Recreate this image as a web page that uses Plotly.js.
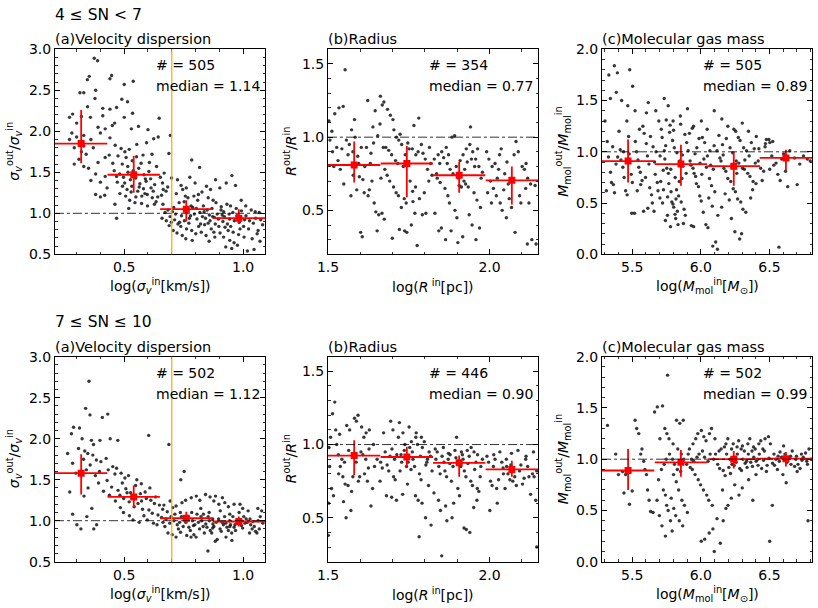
<!DOCTYPE html>
<html><head><meta charset="utf-8">
<script src="https://cdn.plot.ly/plotly-3.0.1.min.js"></script>
<style>html,body{margin:0;padding:0;background:#fff}#plot{width:818px;height:608px}</style>
</head><body><div id="plot"></div>
<script>
// ---------- scatter data (x, y) ----------
const ptsTopA = [[0.374,2.89],[0.388,2.86],[0.353,2.67],[0.345,2.63],[0.447,2.68],[0.44,2.64],[0.538,2.61],[0.50,2.57],[0.314,2.47],[0.33,2.47],[0.38,2.50],[0.377,2.40],[0.49,2.39],[0.514,2.36],[0.468,2.29],[0.44,2.27],[0.346,2.30],[0.41,2.28],[0.50,2.17],[0.647,2.16],[0.535,2.22],[0.283,2.21],[0.32,2.18],[0.358,2.17],[0.41,2.19],[0.30,2.10],[0.27,2.17],[0.45,2.07],[0.56,2.06],[0.53,2.03],[0.39,2.05],[0.42,2.03],[0.60,2.02],[0.46,2.10],
[0.28,1.98],[0.30,1.93],[0.33,1.95],[0.36,1.90],[0.29,1.80],[0.32,1.75],[0.34,1.72],[0.31,1.66],[0.29,1.60],[0.33,1.57],[0.35,1.55],[0.38,1.48],[0.36,1.40],[0.40,1.38],[0.42,1.45],[0.39,1.62],[0.42,1.68],[0.44,1.92],[0.40,1.98],[0.37,1.80],[0.27,1.90],[0.33,1.82],[0.38,1.23],[0.40,1.20],[0.468,0.94],
[0.462,1.83],[0.487,1.79],[0.503,1.75],[0.521,1.78],[0.474,1.70],[0.508,1.68],[0.534,1.64],[0.552,1.69],[0.571,1.61],[0.492,1.60],[0.515,1.57],[0.538,1.52],[0.561,1.55],[0.583,1.47],[0.604,1.51],[0.458,1.52],[0.481,1.48],[0.497,1.44],[0.526,1.41],[0.548,1.43],[0.566,1.36],[0.592,1.39],[0.613,1.31],[0.628,1.35],[0.471,1.38],[0.493,1.33],[0.512,1.29],[0.529,1.26],[0.557,1.27],[0.574,1.21],[0.587,1.24],[0.618,1.19],[0.634,1.14],[0.482,1.24],[0.506,1.21],[0.523,1.16],[0.545,1.13],[0.563,1.32],[0.581,1.30],[0.597,1.23],[0.622,1.27],[0.641,1.20],[0.606,1.62],[0.617,1.72],[0.579,1.71],[0.553,1.84],[0.594,1.86],[0.624,1.91],[0.636,1.57],[0.652,1.44],[0.661,1.37],[0.437,1.71],[0.452,1.61],[0.428,1.31],[0.418,1.22],[0.461,1.11],[0.643,1.93],[0.668,1.49],[0.676,1.27],[0.657,1.22],[0.519,1.06],[0.598,1.09],[0.627,1.11],[0.502,1.37],[0.543,1.47],[0.589,1.42],[0.532,1.33],[0.611,1.42],[0.549,1.20],[0.573,1.12],[0.468,1.45],[0.516,1.50],
[0.663,1.11],[0.684,1.04],[0.703,1.02],[0.716,0.99],[0.741,0.97],[0.659,0.94],[0.677,0.91],[0.698,0.89],[0.726,0.87],[0.738,0.84],[0.762,0.81],[0.784,0.79],[0.672,1.01],[0.693,0.96],[0.708,1.07],[0.731,1.13],[0.752,1.14],[0.768,1.19],[0.793,1.21],[0.812,1.23],[0.827,1.26],[0.853,1.19],[0.874,1.16],[0.886,1.13],[0.719,1.24],[0.746,1.29],[0.757,1.21],[0.781,1.09],[0.803,1.06],[0.818,1.01],[0.842,0.94],[0.861,0.91],[0.883,0.87],[0.898,0.84],[0.924,0.83],[0.937,0.79],[0.958,0.77],[0.981,0.74],[1.004,0.71],[0.767,1.03],[0.779,0.97],[0.806,0.93],[0.821,0.87],[0.838,0.86],[0.866,0.81],[0.877,0.77],[0.903,0.76],[0.918,0.71],[0.944,0.67],[0.962,0.64],[0.976,0.61],[0.927,0.59],[0.952,0.57],[1.018,0.54],[1.046,0.56],[1.071,0.66],[1.038,0.69],[1.063,0.79],[1.082,0.86],[1.027,0.91],[1.053,0.94],[1.068,1.01],[1.012,0.97],[0.993,1.03],[0.971,1.06],[0.947,1.09],[0.932,1.11],[0.907,1.04],[0.891,0.99],[0.872,0.96],[0.849,1.04],[0.833,1.09],[0.809,1.16],[0.788,1.07],[0.774,0.94],[0.753,0.91],[0.733,0.89],[0.712,0.92],[0.689,0.85],[0.706,0.79],[0.722,0.76],[0.744,0.73],[0.759,0.69],[0.786,0.67],[0.801,0.75],[0.824,0.77],[0.844,0.73],[0.857,0.66],[0.881,0.71],[0.896,0.93],[0.921,0.96],[0.941,0.99],[0.963,0.91],[0.984,0.89],[1.002,0.84],[1.023,0.81],[0.974,0.97],[0.934,0.87],[0.912,0.98],[0.953,1.46],[0.968,1.34],[0.929,1.37],[0.902,1.31],[0.884,1.41],[0.863,1.29],[0.846,1.33],[0.798,1.37],[0.776,1.44],[0.761,1.31],[0.817,1.56],[0.784,1.65],[0.694,1.95],[0.688,1.73],[0.739,1.34],[0.724,1.41],[0.699,1.43],[0.683,1.32],[0.664,1.29],[0.992,1.16],[1.011,1.09],[1.034,1.04],[1.051,1.02],[1.074,0.92],[0.989,0.95],[1.006,0.92],[0.957,1.01],[0.943,0.93],[0.918,1.02],[0.908,1.08],[0.879,0.95],[0.858,0.98],[0.836,1.02],[0.795,0.99],[0.829,0.96],[0.869,1.06],[0.915,0.90],[0.948,0.84],[0.987,0.81],[1.043,0.88],[1.059,0.75],[0.853,0.88],[0.813,0.84],[0.772,0.88]];

const ptsTopB = [[1.503,1.11],[1.512,1.04],[1.521,1.16],[1.534,1.20],[1.547,1.21],[1.553,1.46],[1.506,0.98],[1.514,0.90],[1.527,0.93],[1.531,0.84],[1.538,0.78],[1.549,0.68],[1.557,0.98],[1.566,0.95],[1.573,1.05],[1.584,1.00],[1.577,0.90],[1.592,0.87],[1.603,0.93],[1.614,0.80],[1.619,0.93],[1.633,0.89],[1.641,0.96],[1.597,0.73],[1.608,0.71],[1.612,0.62],[1.624,0.60],[1.628,0.64],[1.636,0.70],[1.643,0.55],[1.648,0.49],[1.652,0.36],[1.657,0.47],[1.601,0.35],[1.606,0.32],[1.582,1.12],[1.589,0.64],[1.571,0.60],[1.562,0.88],[1.623,1.25],[1.646,1.18],[1.631,0.82],[1.661,1.09],[1.654,1.01],[1.639,1.07],[1.518,0.80],[1.543,0.92],[1.595,0.82],[1.578,0.74],
[1.662,1.28],[1.668,1.22],[1.673,1.24],[1.684,1.19],[1.701,1.12],[1.693,1.15],[1.704,1.05],[1.712,1.00],[1.719,0.98],[1.728,0.95],[1.723,1.02],[1.747,0.96],[1.671,0.93],[1.679,0.93],[1.688,0.91],[1.697,0.88],[1.709,0.84],[1.716,0.82],[1.733,0.80],[1.676,0.78],[1.683,0.74],[1.691,0.70],[1.703,0.66],[1.711,0.62],[1.718,0.60],[1.736,0.58],[1.742,0.55],[1.664,0.72],[1.667,0.48],[1.674,0.44],[1.699,0.31],[1.721,0.37],[1.737,0.36],[1.744,0.35],[1.758,0.40],[1.769,0.48],[1.776,0.26],[1.783,0.58],[1.792,0.47],[1.803,0.48],[1.781,1.13],[1.761,0.92],[1.772,0.88],[1.779,0.90],[1.794,0.89],[1.801,0.85],[1.808,0.78],[1.818,0.82],[1.766,1.08],[1.751,0.92],[1.739,0.88],[1.754,0.70],[1.762,0.63],[1.771,0.66],[1.798,0.62],[1.812,0.70],[1.822,0.74],[1.727,0.52],[1.763,0.56],[1.789,0.95],[1.814,0.93],
[1.829,0.85],[1.841,0.88],[1.852,0.90],[1.858,0.86],[1.869,0.82],[1.878,0.78],[1.887,0.75],[1.897,0.80],[1.909,0.84],[1.918,0.88],[1.928,0.92],[1.939,0.95],[1.948,0.90],[1.957,0.85],[1.967,0.80],[1.978,0.76],[1.884,1.00],[1.892,1.01],[1.941,1.07],[1.838,0.72],[1.847,0.69],[1.862,0.65],[1.871,0.60],[1.876,0.55],[1.893,0.50],[1.899,0.45],[1.904,0.72],[1.921,0.70],[1.926,0.68],[1.934,0.66],[1.952,0.62],[1.961,0.57],[1.972,0.52],[1.831,0.48],[1.843,0.36],[1.851,0.38],[1.864,0.30],[1.881,0.36],[1.902,0.28],[1.917,0.32],[1.937,0.47],[1.946,0.40],[1.969,0.38],[1.958,0.30],[1.836,0.75],[1.846,0.82],[1.873,0.88],[1.906,0.67],[1.913,0.66],[1.923,0.78],[1.944,0.85],[1.954,0.80],[1.963,0.92],[1.974,0.72],[1.866,0.93],[1.911,0.74],[1.931,0.83],
[1.991,0.90],[1.998,0.85],[2.008,0.80],[2.017,0.82],[2.028,0.78],[2.036,0.92],[2.047,0.75],[2.058,0.68],[2.071,0.70],[2.082,0.97],[2.089,0.90],[2.101,0.80],[2.108,0.78],[2.118,0.72],[2.127,0.68],[2.141,0.67],[2.003,0.70],[2.012,0.65],[2.021,0.60],[2.033,0.55],[2.039,0.50],[2.052,0.45],[1.994,0.62],[2.006,0.55],[2.061,0.58],[2.068,0.52],[2.079,0.35],[2.093,0.60],[2.113,0.82],[2.122,0.55],[2.131,0.30],[2.144,0.27],[2.117,0.27],[2.024,0.72],[2.054,0.83],[2.031,0.88],[2.097,0.55],[2.112,0.65],[2.076,0.88],[2.044,0.64]];

const ptsTopC = [[5.33,1.75],[5.37,1.84],[5.392,1.77],[5.482,1.80],[5.503,1.64],[5.384,1.58],[5.341,1.52],[5.423,1.50],[5.468,1.45],[5.521,1.40],[5.604,1.38],[5.617,1.48],[5.672,1.40],[5.733,1.52],[5.762,1.45],[5.798,1.30],[5.851,1.35],[5.903,1.42],[5.947,1.25],[6.004,1.30],[6.046,1.22],[6.098,1.40],[6.153,1.32],[6.197,1.25],[6.254,1.20],[6.302,1.28],[6.347,1.20],[6.404,1.15],[6.496,1.12],[6.524,1.10],[6.471,1.08],
[5.302,1.30],[5.318,1.10],[5.327,0.95],[5.342,0.80],[5.349,0.70],[5.363,0.68],[5.371,0.60],[5.382,0.88],[5.404,1.20],[5.413,1.02],[5.418,0.92],[5.432,0.85],[5.441,0.75],[5.452,0.62],[5.461,1.30],[5.474,1.15],[5.478,0.98],[5.493,0.78],[5.501,0.70],[5.312,0.62],[5.394,0.95],[5.437,1.00],[5.463,0.58],[5.497,0.40],[5.517,0.40],[5.358,1.05],
[5.523,1.10],[5.531,1.00],[5.542,0.92],[5.548,0.85],[5.559,0.80],[5.572,0.72],[5.578,1.25],[5.587,1.18],[5.603,1.08],[5.611,0.96],[5.622,0.88],[5.628,0.65],[5.641,0.58],[5.647,0.50],[5.659,0.42],[5.668,0.78],[5.683,0.70],[5.688,0.62],[5.702,0.55],[5.537,0.62],[5.562,0.68],[5.583,0.42],[5.614,0.45],[5.633,1.15],[5.652,1.05],[5.674,1.00],[5.694,1.30],[5.553,1.22],[5.597,0.75],[5.663,0.90],
[5.712,1.22],[5.718,1.14],[5.734,1.01],[5.738,0.93],[5.752,0.84],[5.764,0.79],[5.767,0.69],[5.783,0.61],[5.789,0.51],[5.803,0.46],[5.812,0.39],[5.817,0.35],[5.834,0.29],[5.757,0.38],[5.779,0.27],[5.742,0.33],[5.721,0.50],[5.728,0.63],[5.708,0.71],[5.748,1.31],[5.773,1.19],[5.794,1.11],[5.807,1.04],[5.826,0.99],[5.846,0.91],[5.868,0.86],[5.893,0.79],[5.838,0.57],[5.857,0.51],[5.878,0.44],[5.823,0.63],[5.843,0.71],[5.862,0.74],[5.884,1.17],[5.897,1.09],[5.801,1.21],[5.776,1.26],[5.744,1.06],[5.703,0.96],[5.726,0.82],[5.853,1.27],[5.819,0.54],[5.797,0.49],[5.758,0.56],[5.829,0.42],[5.873,0.30],[5.887,0.38],[5.781,0.83],[5.813,0.75],[5.866,0.97],
[5.908,1.01],[5.922,0.91],[5.928,0.87],[5.943,0.84],[5.951,0.79],[5.962,0.76],[5.968,0.69],[5.983,0.66],[5.992,0.57],[6.003,0.52],[6.018,0.41],[6.037,0.29],[6.052,0.26],[5.931,0.28],[5.948,0.27],[5.971,1.04],[5.987,1.13],[6.011,1.14],[6.028,1.09],[6.048,0.96],[6.072,0.87],[6.091,0.83],[6.063,0.74],[6.078,0.67],[6.102,0.61],[6.058,0.55],[6.083,0.47],[6.087,0.08],[6.108,0.12],[6.121,0.05],[6.022,0.93],[6.041,0.85],[5.917,1.18],[5.938,1.23],[6.097,1.06],[6.007,0.78],[5.958,0.98],[5.994,0.89],[6.066,1.01],
[6.118,1.01],[6.139,0.94],[6.147,0.91],[6.168,0.84],[6.182,0.81],[6.197,0.74],[6.218,0.71],[6.236,0.64],[6.252,0.61],[6.268,0.54],[6.291,0.51],[6.307,0.44],[6.328,0.41],[6.223,0.35],[6.248,0.22],[6.283,0.15],[6.297,0.20],[6.132,1.16],[6.158,1.07],[6.186,1.13],[6.213,1.04],[6.232,0.99],[6.258,0.91],[6.277,0.89],[6.304,0.84],[6.317,0.83],[6.342,0.79],[6.358,0.76],[6.381,0.71],[6.397,0.89],[6.352,0.96],[6.333,1.01],[6.312,1.04],[6.286,1.11],[6.273,1.14],[6.241,1.22],[6.368,1.09],[6.389,1.03],[6.177,0.59],[6.207,0.53],[6.152,0.46],[6.124,0.38],[6.363,0.55],[6.377,0.63],[6.402,0.69],[6.262,0.79],[6.163,0.97],[6.227,0.86],[6.321,0.92],
[6.418,0.91],[6.436,0.84],[6.458,0.81],[6.477,1.12],[6.503,1.09],[6.517,0.96],[6.548,0.89],[6.578,0.72],[6.603,0.98],[6.617,0.81],[6.648,1.01],[6.683,0.94],[6.702,0.68],[6.748,0.96],[6.776,0.93],[6.797,0.91],[6.447,0.72],[6.502,0.83],[6.561,0.78],[6.633,0.66],[6.569,0.07],[6.423,1.03],[6.468,1.05],[6.532,0.87],[6.589,0.93],[6.721,0.88]];

const ptsBotA = [[0.352,2.70],[0.338,2.37],[0.356,2.29],[0.408,2.26],[0.431,2.30],[0.287,2.14],[0.312,2.13],[0.278,2.06],[0.323,2.00],[0.362,1.98],[0.371,1.93],[0.398,1.98],[0.441,2.00],[0.473,1.98],[0.603,2.04],[0.688,1.93],[0.308,1.88],[0.334,1.85],[0.347,1.82],[0.368,1.80],[0.262,1.82],[0.283,1.70],[0.329,1.75],[0.383,1.74],[0.402,1.72],[0.424,1.76],[0.357,1.68],[0.341,1.62],[0.297,1.58],[0.379,1.55],[0.396,1.60],[0.452,1.66],[0.433,1.62],[0.468,1.64],[0.487,1.58],[0.461,1.57],[0.503,1.52],[0.518,1.55],[0.271,1.35],[0.283,1.08],[0.301,0.95],[0.318,0.90],[0.372,0.90],[0.384,0.95],[0.343,1.05],[0.364,1.15],[0.331,1.30],[0.348,1.40],[0.392,1.46],[0.413,1.36],[0.428,1.49],[0.447,1.41],[0.474,1.37],[0.492,1.46],[0.507,1.39],[0.527,1.34],[0.548,1.43],[0.568,1.33],[0.593,1.27],[0.612,1.25],[0.627,1.21],[0.648,1.19],[0.438,1.31],[0.463,1.24],[0.482,1.31],[0.498,1.27],[0.521,1.23],[0.542,1.17],[0.558,1.21],[0.577,1.14],[0.604,1.13],[0.618,1.09],[0.642,1.07],[0.657,1.04],[0.484,1.16],[0.497,1.10],[0.522,1.06],[0.537,1.01],[0.563,0.98],[0.583,1.06],[0.597,1.01],[0.623,0.97],[0.638,0.95],[0.553,1.50],[0.572,1.45],[0.588,1.35],[0.608,1.40],[0.632,1.29],[0.667,1.19],[0.693,1.24],[0.662,1.14],[0.681,1.11],[0.704,1.16],[0.718,1.18],[0.743,1.22],[0.758,1.25],[0.782,1.28],[0.752,1.60],[0.738,1.50],[0.803,1.30],[0.818,1.25],[0.842,1.32],[0.861,1.29],[0.877,1.24],[0.898,1.20],[0.923,1.22],[0.938,1.17],[0.962,1.20],[0.998,1.15],[1.021,1.12],[1.062,1.15],[1.078,1.12],[0.533,1.28],[0.512,1.34],[0.573,1.24],
[0.663,0.98],[0.671,0.93],[0.684,0.85],[0.702,0.83],[0.709,1.00],[0.723,0.95],[0.728,0.90],[0.741,1.05],[0.753,1.02],[0.759,0.98],[0.772,0.92],[0.778,0.88],[0.793,0.83],[0.802,0.80],[0.806,1.08],[0.823,1.05],[0.826,1.00],[0.843,0.96],[0.848,0.92],[0.862,0.88],[0.868,0.85],[0.883,0.75],[0.891,0.77],[0.897,1.02],[0.912,0.98],[0.917,0.95],[0.932,0.92],[0.938,0.88],[0.952,0.85],[0.957,1.05],[0.973,1.00],[0.978,0.97],[0.993,0.94],[0.998,0.91],[1.013,1.02],[1.018,0.98],[1.032,0.95],[1.038,0.90],[1.052,0.87],[1.058,0.85],[1.072,1.05],[1.083,0.97],[0.852,0.63],[0.718,0.80],[0.763,0.82],[0.797,0.95],[0.817,0.90],[0.837,0.85],[0.858,1.00],[0.877,0.93],[0.903,0.90],[0.922,1.05],[0.943,1.00],[0.962,0.92],[0.983,1.10],[1.003,1.05],[0.697,1.05],[0.676,1.02],[0.736,1.10],[0.784,1.10],[0.822,1.15],[0.857,1.10],[0.904,1.12],[0.944,1.08],[0.987,1.20],[0.884,1.30],[0.913,1.28],[0.787,1.00],[0.832,0.93],[0.873,0.96],[0.908,0.87],[0.947,0.95],[0.968,0.88],[1.027,0.85],[1.047,0.93],[1.068,0.90],[0.733,0.98],[0.768,1.05],[0.812,0.98],[0.853,1.05],[0.887,0.98],[0.927,0.97],[0.966,0.95],[1.008,0.97],[1.063,1.00],[0.928,0.80],[0.953,0.76],[0.781,0.80],[0.692,0.97],[0.713,1.08],[0.748,0.93],[0.833,1.08],[0.872,1.02],[0.991,1.00],[1.029,1.02],[0.791,0.94],[0.944,0.93],[1.041,0.99],[0.872,0.91],[0.737,0.86]];

const ptsBotB = [[1.521,1.29],[1.514,1.21],[1.503,0.98],[1.508,1.05],[1.524,1.10],[1.527,1.00],[1.532,0.93],[1.543,0.90],[1.551,0.88],[1.558,1.13],[1.567,1.10],[1.582,1.18],[1.588,1.16],[1.593,1.20],[1.604,1.12],[1.611,1.05],[1.618,1.08],[1.628,1.10],[1.641,1.00],[1.502,0.60],[1.511,0.70],[1.517,0.65],[1.533,0.80],[1.538,0.85],[1.548,0.61],[1.556,0.50],[1.562,0.72],[1.573,0.68],[1.577,0.78],[1.594,0.75],[1.598,0.78],[1.613,0.80],[1.622,0.75],[1.633,0.58],[1.638,0.70],[1.571,0.55],[1.553,0.73],[1.652,0.90],[1.564,0.96],[1.579,0.92],[1.602,0.95],[1.617,0.90],[1.644,0.85],[1.587,0.88],[1.608,0.93],[1.627,0.97],[1.536,1.07],[1.505,0.85],[1.501,0.38],[1.546,0.78],[1.625,0.84],
[1.672,1.08],[1.677,0.95],[1.692,0.92],[1.698,0.97],[1.713,0.93],[1.718,1.05],[1.732,1.08],[1.738,1.00],[1.753,0.98],[1.758,1.02],[1.772,1.05],[1.777,1.00],[1.792,0.98],[1.798,1.02],[1.813,0.95],[1.817,0.92],[1.663,0.88],[1.668,0.84],[1.683,0.86],[1.688,0.82],[1.703,0.78],[1.708,0.76],[1.723,0.82],[1.728,0.88],[1.743,0.85],[1.748,0.88],[1.763,0.90],[1.768,0.85],[1.783,0.80],[1.788,0.76],[1.803,0.86],[1.808,0.90],[1.822,0.82],[1.694,1.16],[1.701,1.10],[1.721,1.15],[1.751,1.12],[1.773,1.08],[1.789,1.05],[1.731,0.66],[1.746,0.73],[1.771,0.65],[1.779,0.62],[1.791,0.60],[1.697,0.64],[1.712,0.62],[1.681,0.65],[1.661,0.75],[1.811,0.72],[1.802,0.50],[1.819,0.45],[1.782,0.37],[1.761,0.95],[1.741,0.92],[1.726,0.93],[1.706,0.90],[1.786,0.92],[1.806,0.88],[1.736,0.96],[1.757,0.83],
[1.832,0.97],[1.838,0.95],[1.853,0.92],[1.857,0.98],[1.872,0.90],[1.878,0.93],[1.893,0.96],[1.898,1.05],[1.913,0.95],[1.918,0.90],[1.933,0.87],[1.937,0.92],[1.952,0.95],[1.958,0.88],[1.973,0.85],[1.978,0.90],[1.843,0.85],[1.847,0.80],[1.862,0.82],[1.867,0.78],[1.882,0.75],[1.887,0.85],[1.902,0.70],[1.907,0.65],[1.922,0.82],[1.927,0.78],[1.942,0.75],[1.947,0.72],[1.962,0.70],[1.967,0.68],[1.828,0.67],[1.842,0.62],[1.848,0.55],[1.864,0.58],[1.868,0.48],[1.884,0.50],[1.889,0.60],[1.921,0.43],[1.928,0.42],[1.939,0.40],[1.951,0.57],[1.961,0.62],[1.852,0.24],[1.859,0.88],[1.877,0.87],[1.903,0.88],[1.916,0.93],[1.943,0.98],[1.963,0.93],[1.834,0.90],[1.873,0.94],[1.911,0.85],[1.954,0.83],[1.971,0.78],[1.896,0.91],[1.931,0.96],
[1.992,0.92],[1.997,0.88],[2.012,0.85],[2.017,0.90],[2.032,0.95],[2.038,0.88],[2.053,0.85],[2.057,0.80],[2.072,0.75],[2.078,0.78],[2.093,0.82],[2.097,0.86],[2.112,0.90],[2.118,0.85],[2.133,0.80],[2.138,0.78],[2.146,0.82],[2.003,0.75],[2.008,0.72],[2.022,0.70],[2.028,0.76],[2.043,0.80],[2.048,0.70],[2.063,0.76],[2.083,0.72],[2.102,0.73],[2.107,0.77],[2.127,0.66],[2.143,0.62],[2.001,0.55],[2.024,0.60],[2.052,0.90],[2.068,0.94],[2.088,0.96],[2.113,0.92],[2.136,0.95],[2.013,0.93],[2.042,0.84],[2.122,0.78],[2.146,0.30],[2.066,0.86]];

const ptsBotC = [[5.32,1.33],[5.38,1.05],[5.43,0.88],[5.452,0.85],[5.40,0.85],[5.44,0.67],[5.48,0.56],[5.50,0.69],[5.521,1.38],[5.533,1.30],[5.548,1.25],[5.571,1.10],[5.562,1.05],[5.584,0.98],[5.593,0.90],[5.604,0.85],[5.612,0.70],[5.623,0.60],[5.634,0.49],[5.652,0.48],[5.663,1.46],[5.683,1.51],[5.702,1.20],[5.721,1.52],[5.738,1.30],[5.753,1.25],[5.768,1.20],[5.758,1.82],[5.727,0.70],[5.742,0.65],[5.751,0.55],[5.762,0.50],[5.779,0.40],[5.791,0.30],[5.742,0.25],[5.717,0.35],[5.698,0.45],[5.681,0.60],[5.692,0.80],[5.713,0.90],[5.733,0.95],[5.748,1.00],[5.772,1.05],[5.794,1.00],[5.808,0.95],[5.829,0.90],[5.853,0.88],[5.801,0.85],[5.821,0.78],[5.838,0.70],[5.862,0.60],[5.881,0.55],[5.784,0.62],[5.803,0.52],[5.817,0.45],[5.843,0.40],[5.868,0.35],[5.902,0.48],[5.823,1.38],[5.847,1.35],[5.872,1.38],[5.798,1.15],[5.832,1.10],[5.858,1.05],[5.877,1.00],[5.897,0.95],[5.923,0.92],[5.938,0.90],[5.958,0.85],[5.981,0.80],[5.998,0.75],[6.019,0.70],[6.043,0.65],[6.058,0.60],[6.083,0.55],[6.003,0.20],[6.028,0.22],[6.061,0.28],[6.088,0.32],[6.118,0.42],[6.098,0.10],[6.142,0.18],[6.163,0.40],
[5.917,1.10],[5.943,1.15],[5.963,1.20],[5.978,1.25],[6.004,1.28],[6.022,1.22],[6.038,1.18],[6.063,1.25],[6.078,1.30],[6.103,1.20],[5.908,1.05],[5.932,1.00],[5.948,0.98],[5.972,1.02],[5.987,1.05],[6.012,1.08],[6.027,1.02],[6.053,0.98],[6.068,1.05],[6.093,1.00],[6.107,1.05],[6.133,1.08],[6.148,1.10],[6.172,1.12],[6.188,1.05],[6.213,1.00],[6.227,0.95],[6.253,1.02],[6.266,1.05],[6.294,1.10],[6.307,1.00],[6.334,0.98],[6.346,1.05],[6.373,1.08],[6.386,1.02],[6.414,1.00],[6.426,1.05],[6.452,1.10],[6.468,1.20],[6.493,1.22],[6.507,1.15],[6.533,1.05],[6.547,1.00],[6.572,0.98],[6.588,1.02],[6.613,1.05],[6.627,0.97],[6.654,1.03],[6.666,1.08],[6.692,1.00],[6.708,0.95],[6.733,1.05],[6.746,1.02],[6.772,0.98],[6.788,1.10],[6.803,1.00],
[6.123,0.95],[6.137,0.91],[6.163,0.89],[6.177,0.84],[6.204,0.92],[6.216,0.86],[6.243,0.94],[6.257,0.97],[6.284,0.91],[6.296,0.89],[6.323,0.96],[6.337,0.92],[6.364,0.97],[6.376,0.93],[6.403,0.98],[6.417,0.94],[6.443,0.91],[6.457,0.99],[6.483,0.94],[6.497,1.01],[6.523,0.96],[6.537,0.94],[6.563,1.03],[6.577,1.07],[6.603,1.13],[6.617,0.99],[6.643,1.01],[6.657,0.95],[6.683,0.93],[6.697,1.03],[6.723,0.91],[6.737,0.99],[6.763,1.06],[6.777,0.95],
[6.183,1.15],[6.197,1.20],[6.224,1.10],[6.236,1.15],[6.264,1.12],[6.276,1.18],[6.303,1.13],[6.317,1.08],[6.343,1.15],[6.357,1.20],[6.384,1.12],[6.396,1.10],[6.423,1.15],[6.437,1.18],[6.463,1.08],[6.247,0.75],[6.222,0.62],[6.198,0.55],[6.183,0.52],[6.158,0.70],[6.278,0.65],[6.302,0.72],[6.348,0.80],[6.402,0.85],[6.379,0.60],[6.502,0.20],[6.521,0.55],[6.598,0.85],[6.622,0.77],[6.781,0.40],[6.558,0.90],[6.478,0.88],[6.702,0.88]];

// ---------- binned medians ----------
const binCentersA = [0.319, 0.540, 0.761, 0.982];
const binHalfA = 0.110;
const binCentersB = [1.581, 1.744, 1.906, 2.069];
const binHalfB = 0.081;
const binCentersC = [5.47, 5.855, 6.24, 6.62];
const binHalfC = 0.191;

const topA_med = [1.85, 1.47, 1.05, 0.94], topA_hi = [2.26, 1.70, 1.16, 1.05], topA_lo = [1.61, 1.25, 0.90, 0.87];
const topB_med = [0.81, 0.82, 0.74, 0.705], topB_hi = [0.97, 0.94, 0.83, 0.80], topB_lo = [0.69, 0.59, 0.62, 0.54];
const topC_med = [0.91, 0.88, 0.86, 0.94], topC_hi = [1.12, 1.07, 1.00, 1.02], topC_lo = [0.70, 0.67, 0.67, 0.82];
const botA_med = [1.58, 1.29, 1.03, 0.99], botA_hi = [1.81, 1.43, 1.11, 1.05], botA_lo = [1.32, 1.16, 0.97, 0.93];
const botB_med = [0.925, 0.915, 0.875, 0.83], botB_hi = [1.03, 0.985, 0.925, 0.89], botB_lo = [0.79, 0.85, 0.78, 0.78];
const botC_med = [0.89, 0.97, 1.00, 1.005], botC_hi = [1.10, 1.09, 1.08, 1.07], botC_lo = [0.70, 0.83, 0.91, 0.93];

const counts = ['505', '354', '505', '502', '446', '502'];
const medians = ['1.14', '0.77', '0.89', '1.12', '0.90', '0.99'];
const rowTitles = ['4 ≤ SN < 7', '7 ≤ SN ≤ 10'];
const panelTitles = ['(a)Velocity dispersion', '(b)Radius', '(c)Molecular gas mass'];
const xTitles = ['log(<i>σ</i><sub><i>v</i></sub><sup>in</sup>[km/s])', 'log(<i>R</i><sup> in</sup>[pc])', 'log(<i>M</i><sub>mol</sub><sup>in</sup>[<i>M</i><sub>⊙</sub>])'];
const yTitles = ['<i>σ</i><sub><i>v</i></sub><sup>out</sup>/<i>σ</i><sub><i>v</i></sub><sup>in</sup>', '<i>R</i><sup>out</sup>/<i>R</i><sup>in</sup>', '<i>M</i><sub>mol</sub><sup>out</sup>/<i>M</i><sub>mol</sub><sup>in</sup>'];

// ---------- layout geometry (pixels) ----------
const W = 818, H = 608;
const colLeft = [55, 328, 602], colW = 210;
const rowTop = [49.3, 356.7], rowH = 205;
const xRanges = [[0.209, 1.092], [1.5, 2.15], [5.28, 6.81]];
const yRanges = [[0.5, 3.0], [0.2, 1.6], [0.0, 2.0]];

const FONT = 'DejaVu Sans, Liberation Sans, sans-serif';
const panels = [
  {pts: ptsTopA, bx: binCentersA, bh: binHalfA, med: topA_med, hi: topA_hi, lo: topA_lo},
  {pts: ptsTopB, bx: binCentersB, bh: binHalfB, med: topB_med, hi: topB_hi, lo: topB_lo},
  {pts: ptsTopC, bx: binCentersC, bh: binHalfC, med: topC_med, hi: topC_hi, lo: topC_lo},
  {pts: ptsBotA, bx: binCentersA, bh: binHalfA, med: botA_med, hi: botA_hi, lo: botA_lo},
  {pts: ptsBotB, bx: binCentersB, bh: binHalfB, med: botB_med, hi: botB_hi, lo: botB_lo},
  {pts: ptsBotC, bx: binCentersC, bh: binHalfC, med: botC_med, hi: botC_hi, lo: botC_lo}
];

const traces = [], shapes = [], annotations = [];
const layout = {
  width: W, height: H, margin: {l: 0, r: 0, t: 0, b: 0},
  paper_bgcolor: '#fff', plot_bgcolor: '#fff', showlegend: false,
  font: {family: FONT, color: '#000', size: 14}
};

panels.forEach((p, i) => {
  const row = Math.floor(i / 3), col = i % 3;
  const n = i + 1, xa = 'x' + (n === 1 ? '' : n), ya = 'y' + (n === 1 ? '' : n);
  const xk = 'xaxis' + (n === 1 ? '' : n), yk = 'yaxis' + (n === 1 ? '' : n);
  const x0 = colLeft[col] / W, x1 = (colLeft[col] + colW) / W;
  const y1 = 1 - rowTop[row] / H, y0 = 1 - (rowTop[row] + rowH) / H;
  const common = {
    showline: true, linecolor: '#000', linewidth: 1, mirror: 'allticks',
    ticks: 'inside', ticklen: 5, tickwidth: 1, tickcolor: '#000',
    showgrid: false, zeroline: false, tickformat: '.1f',
    tickfont: {family: FONT, size: 14, color: '#000'},
    minor: {ticks: 'inside', ticklen: 2.5, tickwidth: 0.8, tickcolor: '#000', dtick: 0.1, showgrid: false}
  };
  layout[xk] = Object.assign({}, common, {domain: [x0, x1], range: xRanges[col], anchor: ya, dtick: 0.5, tick0: 0, fixedrange: true});
  layout[yk] = Object.assign({}, common, {domain: [y0, y1], range: yRanges[col], anchor: xa, dtick: 0.5, tick0: 0, fixedrange: true});

  traces.push({
    type: 'scatter', mode: 'markers', xaxis: xa, yaxis: ya,
    x: p.pts.map(d => d[0]), y: p.pts.map(d => d[1]),
    marker: {size: 3.4, color: 'rgba(20,20,20,0.85)', line: {width: 0}},
    hoverinfo: 'skip'
  });
  traces.push({
    type: 'scatter', mode: 'markers', xaxis: xa, yaxis: ya,
    x: p.bx, y: p.med,
    marker: {symbol: 'square', size: 7, color: '#ff0000'},
    error_x: {type: 'data', array: p.bx.map(() => p.bh), color: '#ff0000', thickness: 1.8, width: 0},
    error_y: {type: 'data', symmetric: false, array: p.hi.map((h, k) => h - p.med[k]), arrayminus: p.med.map((m, k) => m - p.lo[k]), color: '#ff0000', thickness: 1.8, width: 0},
    hoverinfo: 'skip'
  });

  shapes.push({type: 'line', xref: xa + ' domain', yref: ya, x0: 0, x1: 1, y0: 1, y1: 1, line: {color: '#000', width: 0.8, dash: 'dashdot'}});
  if (col === 0) {
    shapes.push({type: 'line', xref: xa, yref: ya + ' domain', x0: 0.7, x1: 0.7, y0: 0, y1: 1, line: {color: '#FFA500', width: 1.2}});
  }

  const px = colLeft[col], top = rowTop[row];
  annotations.push({xref: 'paper', yref: 'paper', x: (px + 99) / W, y: 1 - (top + 16) / H, xanchor: 'left', yanchor: 'middle', showarrow: false, text: '# = ' + counts[i], font: {family: FONT, size: 14}});
  annotations.push({xref: 'paper', yref: 'paper', x: (px + 99) / W, y: 1 - (top + 37) / H, xanchor: 'left', yanchor: 'middle', showarrow: false, text: 'median = ' + medians[i], font: {family: FONT, size: 14}});
  annotations.push({xref: 'paper', yref: 'paper', x: px / W, y: 1 - (top - 10) / H, xanchor: 'left', yanchor: 'middle', showarrow: false, text: panelTitles[col], font: {family: FONT, size: 14.5}, xshift: -2});
  annotations.push({xref: 'paper', yref: 'paper', x: (px + colW / 2) / W, y: 1 - (top + rowH + 32) / H, xanchor: 'center', yanchor: 'middle', showarrow: false, text: xTitles[col], font: {family: FONT, size: 14}});
  const ytx = [14, 290, 563][col];
  annotations.push({xref: 'paper', yref: 'paper', x: ytx / W, y: 1 - (top + rowH / 2) / H, xanchor: 'center', yanchor: 'middle', textangle: -90, showarrow: false, text: yTitles[col], font: {family: FONT, size: 14}});
});

rowTitles.forEach((t, r) => {
  annotations.push({xref: 'paper', yref: 'paper', x: 55 / W, y: 1 - (rowTop[r] - 34.5) / H, xanchor: 'left', yanchor: 'middle', showarrow: false, text: t, font: {family: FONT, size: 15.5}, xshift: -2});
});

layout.shapes = shapes;
layout.annotations = annotations;
Plotly.newPlot('plot', traces, layout, {staticPlot: true, displayModeBar: false});
</script>
</body></html>
